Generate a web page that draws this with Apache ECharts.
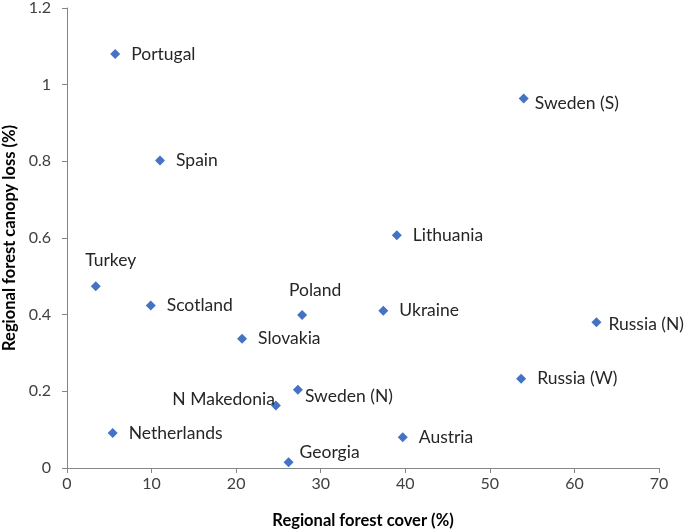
<!DOCTYPE html>
<html>
<head>
<meta charset="utf-8">
<script src="https://cdn.jsdelivr.net/npm/echarts@6/dist/echarts.min.js"></script>
<style>
  html, body { margin: 0; padding: 0; background: #fff; }
  #chart { width: 685px; height: 530px; }
</style>
</head>
<body>
<div id="chart"></div>
<script>
// regions and their values
const regions = ['Portugal', 'Sweden (S)', 'Spain', 'Lithuania', 'Turkey', 'Scotland', 'Poland', 'Ukraine',
  'Russia (N)', 'Slovakia', 'Russia (W)', 'Sweden (N)', 'N Makedonia', 'Netherlands', 'Austria', 'Georgia']
const forestCover = [5.7, 54.0, 11.0, 39.0, 3.4, 9.9, 27.8, 37.4, 62.6, 20.7, 53.7, 27.3, 24.7, 5.4, 39.7, 26.2]
const canopyLoss = [1.08, 0.964, 0.802, 0.607, 0.474, 0.424, 0.399, 0.41, 0.38, 0.337, 0.233, 0.204, 0.163, 0.091, 0.08, 0.015]
const xTicks = [0, 10, 20, 30, 40, 50, 60, 70]
const yTicks = [0, 0.2, 0.4, 0.6, 0.8, 1, 1.2]

// where each label sits relative to its marker
const labelPlace = {
  'Turkey': { position: 'top', offset: [15, -1] },
  'Poland': { position: 'top', offset: [13, 0] },
  'Georgia': { position: 'right', distance: 6, offset: [0, -10] },
  'N Makedonia': { position: 'left', distance: -4, offset: [0, -6] },
  'Sweden (N)': { position: 'right', distance: 2, offset: [0, 7] },
  'Sweden (S)': { position: 'right', distance: 6, offset: [0, 5] },
  'Russia (N)': { position: 'right', distance: 7, offset: [0, 2] }
}

const points = regions.map((name, i) => ({
  name: name,
  value: [forestCover[i], canopyLoss[i]],
  label: labelPlace[name] || {}
}))

const font = 'Lato, "Open Sans", sans-serif'
const chart = echarts.init(document.getElementById('chart'))
chart.setOption({
  animation: false,
  grid: { left: 67, right: 26, top: 8, bottom: 62, outerBoundsMode: 'none', containLabel: false },
  xAxis: {
    type: 'value',
    min: xTicks[0], max: xTicks[xTicks.length - 1], interval: 10,
    name: 'Regional forest cover (%)',
    nameLocation: 'middle',
    nameGap: 44,
    nameTextStyle: { fontFamily: font, fontSize: 16.5, fontWeight: 'bold', color: '#000' },
    axisLine: { show: true, lineStyle: { color: '#868686' } },
    axisTick: { show: true, length: 5, lineStyle: { color: '#868686' } },
    axisLabel: { margin: 8, fontFamily: font, fontSize: 16, color: '#404040' },
    splitLine: { show: false }
  },
  yAxis: {
    type: 'value',
    min: yTicks[0], max: yTicks[yTicks.length - 1], interval: 0.2,
    name: 'Regional forest canopy loss (%)',
    nameLocation: 'middle',
    nameGap: 46,
    nameTextStyle: { fontFamily: font, fontSize: 16.5, fontWeight: 'bold', color: '#000' },
    axisLine: { show: true, lineStyle: { color: '#868686' } },
    axisTick: { show: true, length: 5, lineStyle: { color: '#868686' } },
    axisLabel: {
      margin: 16, fontFamily: font, fontSize: 16, color: '#404040',
      formatter: v => String(Math.round(v * 10) / 10)
    },
    splitLine: { show: false }
  },
  series: [{
    type: 'scatter',
    symbol: 'diamond',
    symbolSize: 10,
    itemStyle: { color: '#4472C4', opacity: 1 },
    label: {
      show: true,
      position: 'right',
      distance: 11,
      formatter: '{b}',
      fontFamily: font,
      fontSize: 17.5,
      color: '#262626'
    },
    data: points
  }]
})
</script>
</body>
</html>
